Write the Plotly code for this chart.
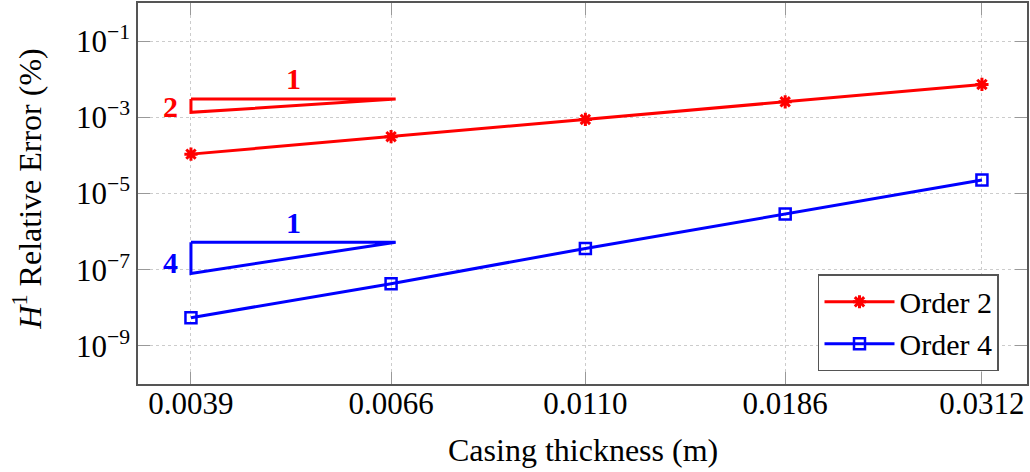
import math
import plotly.graph_objects as go

# ---- data ----
thickness = [0.0039, 0.0066, 0.0110, 0.0186, 0.0312]
x_tick_labels = ["0.0039", "0.0066", "0.0110", "0.0186", "0.0312"]
err_order2 = [1.08e-4, 3.1e-4, 8.8e-4, 2.55e-3, 7.3e-3]
err_order4 = [5.5e-9, 4.3e-8, 3.6e-7, 2.9e-6, 2.26e-5]

# slope triangles
tri_x = [0.0039, 0.00668, 0.0039, 0.0039]
tri2_y = [3.0e-3, 3.0e-3, 1.35e-3, 3.0e-3]
tri4_y = [5.25e-7, 5.25e-7, 8.0e-8, 5.25e-7]

y_tick_vals = [1e-9, 1e-7, 1e-5, 1e-3, 1e-1]
y_tick_text = ["10<sup>−9</sup>", "10<sup>−7</sup>", "10<sup>−5</sup>",
               "10<sup>−3</sup>", "10<sup>−1</sup>"]

RED = "#ff0000"
BLUE = "#0000ff"
FONT = "Liberation Serif"
FS = 31

fig = go.Figure()

fig.add_trace(go.Scatter(
    x=tri_x, y=tri2_y, mode="lines", line=dict(color=RED, width=3),
    showlegend=False, hoverinfo="skip"))
fig.add_trace(go.Scatter(
    x=tri_x, y=tri4_y, mode="lines", line=dict(color=BLUE, width=3),
    showlegend=False, hoverinfo="skip"))

fig.add_trace(go.Scatter(
    x=thickness, y=err_order2, mode="lines+markers", name="Order 2",
    line=dict(color=RED, width=3),
    marker=dict(symbol="asterisk-open", size=11, color=RED,
                line=dict(color=RED, width=3))))
fig.add_trace(go.Scatter(
    x=thickness, y=err_order4, mode="lines+markers", name="Order 4",
    line=dict(color=BLUE, width=3),
    marker=dict(symbol="square-open", size=11, color=BLUE,
                line=dict(color=BLUE, width=2.5))))

def lab(x, y, text, color):
    fig.add_annotation(x=math.log10(x), y=math.log10(y), xref="x", yref="y",
                       text=f"<b>{text}</b>", showarrow=False,
                       font=dict(family=FONT, size=30, color=color),
                       xanchor="center", yanchor="middle")

lab(0.0051, 1.06e-2, "1", RED)
lab(0.0037, 1.94e-3, "2", RED)
lab(0.0051, 1.74e-6, "1", BLUE)
lab(0.0037, 1.58e-7, "4", BLUE)

# axis titles
fig.add_annotation(x=0.5006, y=-0.172, xref="paper", yref="paper",
                   text="Casing thickness (m)", showarrow=False,
                   font=dict(family=FONT, size=32, color="black"),
                   xanchor="center", yanchor="middle")
fig.add_annotation(x=(27 - 138) / 889, y=0.51, xref="paper", yref="paper",
                   text="<i>H</i><sup>1</sup> Relative Error (%)", showarrow=False,
                   textangle=-90,
                   font=dict(family=FONT, size=32, color="black"),
                   xanchor="center", yanchor="middle")

axis_common = dict(
    showline=True, linecolor="#555555", linewidth=1.5, mirror="allticks",
    ticks="inside", ticklen=12, tickcolor="#999999", tickwidth=1,
    showgrid=True, gridcolor="#cccccc", gridwidth=1, griddash="dot",
    zeroline=False,
    tickfont=dict(family=FONT, size=FS, color="black"),
)

fig.update_xaxes(type="log", range=[-2.4694, -1.4544],
                 tickvals=thickness, ticktext=x_tick_labels,
                 ticklabelstandoff=-9, **axis_common)
fig.update_yaxes(type="log", range=[-10, 0],
                 tickvals=y_tick_vals, ticktext=y_tick_text,
                 ticklabelstandoff=0, **axis_common)

fig.update_layout(
    width=1030, height=472,
    margin=dict(l=138, r=3, t=1, b=88),
    paper_bgcolor="white", plot_bgcolor="white",
    font=dict(family=FONT, size=FS, color="black"),
    legend=dict(x=0.9685, y=0.288, xanchor="right", yanchor="top",
                bgcolor="white", bordercolor="#555555", borderwidth=1.5,
                font=dict(family=FONT, size=30, color="black"),
                tracegroupgap=0, itemwidth=70),
)

fig.write_html("out.html")
